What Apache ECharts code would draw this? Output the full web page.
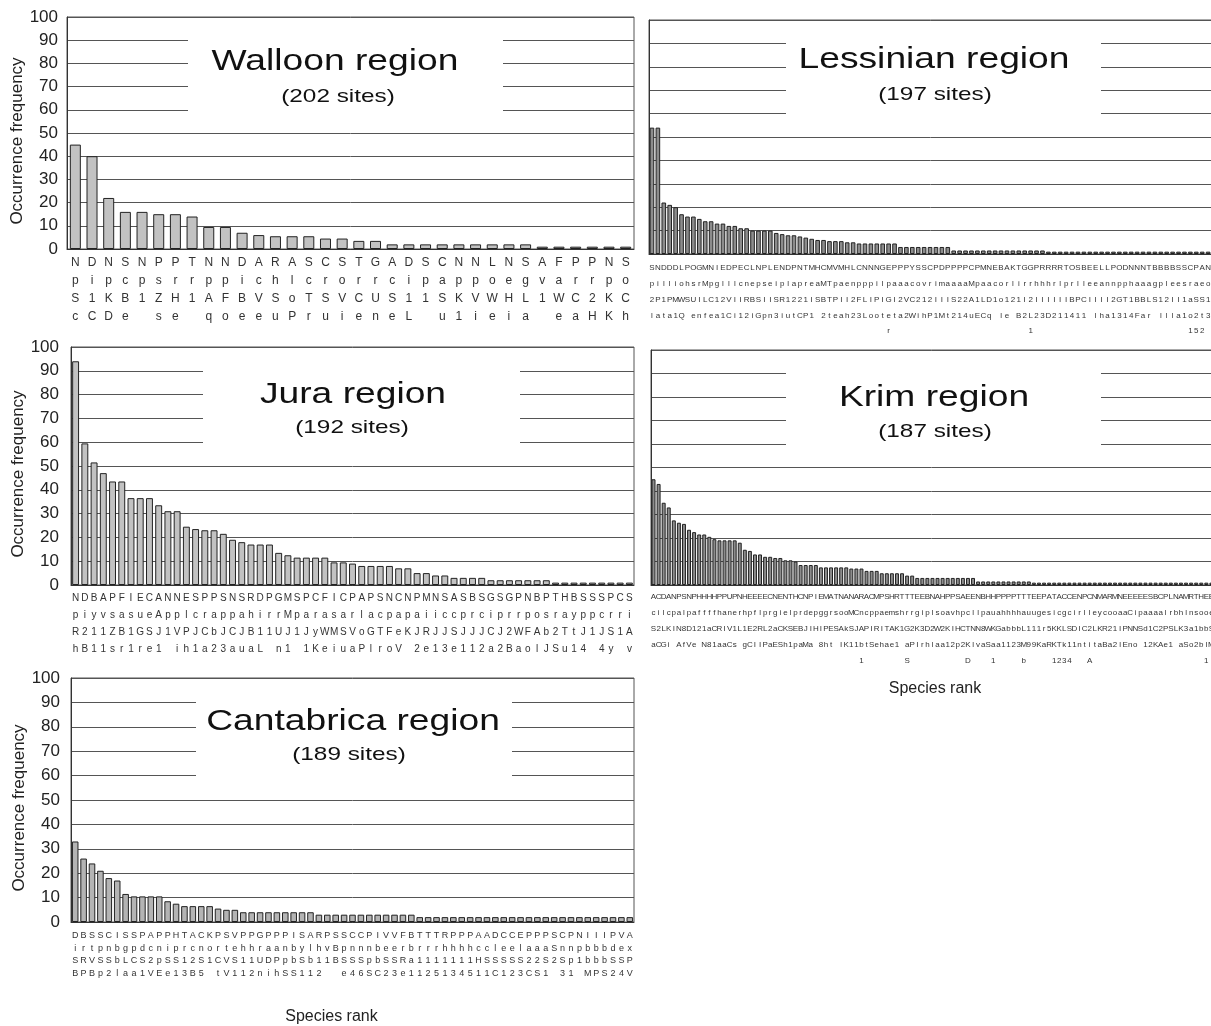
<!DOCTYPE html>
<html><head><meta charset="utf-8">
<script src="https://cdn.jsdelivr.net/npm/echarts@6/dist/echarts.min.js"></script>
<style>html,body{margin:0;padding:0;background:#fff}#c{width:1211px;height:1026px}</style>
</head><body><div id="c"></div>
<script>
// ---------------- DATA ----------------
const walloonValues = [45,40,22,16,16,15,15,14,9.5,9.5,7,6,5.5,5.5,5.5,4.5,4.5,3.5,3.5,2,2,2,2,2,2,2,2,2,1,1,1,1,1,1];
const walloonLabelRows = [
  "NDNSNPPTNNDARASCSTGADSCNNLNSAFPPNS",
  "pipcpsrrppichlcrorrcipappoegvarrpo",
  "S1KB1ZH1AFBVSoTSVCUS11SKVWHL1WC2KC",
  "cCDe se qoeeuPruieneL u1ieia eaHKh"
];

const lessinianValues = [54,54,22,21,20,17,16,16,15,14,14,13,13,12,12,11,11,10,10,10,10,9,8.5,8,8,7.5,7,6.5,6,6,5.5,5.5,5.5,
  5,5,4.5,4.5,4.5,4.5,4.5,4.5,4.5,3,3,3,3,3,3,3,3,3,
  1.5,1.5,1.5,1.5,1.5,1.5,1.5,1.5,1.5,1.5,1.5,1.5,1.5,1.5,1.5,1.5,
  1,1,1,1,1,1,1,1,1,1,1,1,1,1,1,1,1,1,1,1,1,1,1,1,1,1,1,1,1];
const lessinianLabelRows = [
  "SNDDDLPOGMNIEDPECLNPLENDPNTMHCMVMHLCNNNGEPPPYSSCPDPPPPCPMNEBAKTGGPRRRRTOSBEELLPODNNNTBBBBSSCPANE",
  "pilliohsrMpglllcnepseiplapreaMTpaenpppilpaaacovrimaaaaMpaacorlirrhhhrlprlleeannpphaaagpleesraeon",
  "2P1PMWSUILC12VIIRBSIISR1221ISBTPII2FLIPIGI2VC212IIIS22A1LD1o121I2IIIIIIBPCIIII2GT1BBLS12II1aSS1L",
  "lata1Q enfea1Ci12iGpn3iutCP1 2teah23Looteta2WihP1Mt214uECq le B2L23D211411 lha1314Far llla1o2t3e"
];
const lessinianRow5 = {41:"r", 65:"1", 92:"1", 93:"5", 94:"2"};

const juraValues = [94,59.5,51.5,47,43.5,43.5,36.5,36.5,36.5,33.5,31,31,24.5,23.5,23,23,21.5,19,18,17,17,17,13.5,12.5,11.5,11.5,11.5,11.5,9.5,9.5,
  9,8,8,8,8,7,7,5,5,4,4,3,3,3,3,2,2,2,2,2,2,2,1,1,1,1,1,1,1,1,1];
const juraLabelRows = [
  "NDBAPFIECANNESPPSNSRDPGMSPCFICPAPSNCNPMNSASBSGSGPNBPTHBSSSPCS",
  "piyvsasueApplcrappahirrMparasarlacpapaiiccprciprrposrayppcrri",
  "R211ZB1GSJ1VPJCbJCJB11UJ1JyWMSVoGTFeKJRJJSJJJCJ2WFAb2TtJ1JS1A",
  "hB11sr1re1 ih1a23auaL n1 1KeiuaPlroV 2e13e112a2BaolJSu14 4y v"
];

const krimValues = [45,43,35,33,27.5,26.5,26,23.5,22.5,21.5,21.5,20.5,19.5,19,19,19,19,18,15,14.5,13,13,12,12,11.5,11.5,10.5,10.5,10,8.5,8.5,8.5,8.5,7.5,7.5,7.5,7.5,7.5,7.5,
  7,7,7,6,6,6,5,5,5,5,5,4,4,3,3,3,3,3,3,3,3,3,3,3,3,
  1.5,1.5,1.5,1.5,1.5,1.5,1.5,1.5,1.5,1.5,1.5,
  1,1,1,1,1,1,1,1,1,1,1,1,1,1,1,1,1,1,1,1,1,1,1,1,1,1,1,1,1,1,1,1,1,1,1,1,1];
const krimLabelRows = [
  "ACDANPSNPHHHHPPUPNHEEEECNENTHCNPIEMATNANARACMPSHRTTTEEBNAHPPSAEENBHHPPPPTTTEEPATACCENPCNMARMNEEEEESBCPLNAMRTHEES",
  "cilcpalpaffffhanerhpflprgielprdepggrsooMCncppaemshrrgiplsoavhpcllpauahhhhauugesicgcirlleycooaaCipaaaalrbhlnsooep",
  "S2LKIN8D121aCRIV1L1E2RL2aCKSEBJIHIPESAkSJAPIRITAK1G2K3D2W2KIHCTNN8WKGabbbL111r5KKLSDIC2LKR21IPNNSd1C2PSLK3a1bbSS",
  "aCGi AfVe N81aaCs gCIIPaESh1paMa 8ht IK11btSehae1 aPIrhlaa12p2KlvaSaa1123M99KaRKTk11ntitaBa2lEno 12KAe1 aSo2blMa"
];
const krimRow5 = {42:"1", 51:"S", 63:"D", 68:"1", 74:"b", 80:"1", 81:"2", 82:"3", 83:"4", 87:"A", 110:"1"};

const cantabricaValues = [33,26,24,21,18,17,11.5,10.5,10.5,10.5,10.5,8.5,7.5,6.5,6.5,6.5,6.5,5.5,5,5,
  4,4,4,4,4,4,4,4,4,3,3,3,3,3,3,3,3,3,3,3,3,
  2,2,2,2,2,2,2,2,2,2,2,2,2,2,2,2,2,2,2,2,2,2,2,2,2,2];
const cantabricaLabelRows = [
  "DBSSCISSPAPPHTACKPSVPPGPPPISARPSSCCPIVVFBTTTRPPPAADCCEPPPSCPNIIIPVA",
  "irtpnbgpdcniprcnortehhraanbylhvBpnnnbeerbrrrhhhhccleelaaaSnnpbbbdex",
  "SRVSSbLCS2pSS12S1CVS11UDPpbSb11BSSSpbSSRa1111111HSSSSS22S2Sp1bbbSSP",
  "BPBp2laa1VEe13B5 tV112nihSS112  e46SC23e1125134511C123CS1 31 MPS24V"
];

const yTicks = [0,10,20,30,40,50,60,70,80,90,100];
const regionTitles = ["Walloon region","Lessinian region","Jura region","Krim region","Cantabrica region"];
const regionSites = ["(202 sites)","(197 sites)","(192 sites)","(187 sites)","(189 sites)"];

// ---------------- BUILD ----------------
function buildCodes(rows, n, row5) {
  const out = [];
  for (let i = 0; i < n; i++) {
    let s = rows.map(r => r.charAt(i) || ' ').join('');
    if (row5) s += (row5[i + 1] || ' ');
    out.push(s);
  }
  return out;
}

const FONT = '"Liberation Sans", Arial, sans-serif';

const panels = [
  { values: walloonValues, cats: buildCodes(walloonLabelRows, walloonValues.length),
    grid: {left: 67, top: 17, width: 567, height: 232}, showY: true, yMargin: 9, nameGap: 39,
    lf: 12, lh: 18, lm: 5, gap: '34%', fill: '#c2c2c2',
    box: [188, 26, 315, 94], tpos: [335, 62], spos: [338, 97] },
  { values: lessinianValues, cats: buildCodes(lessinianLabelRows, lessinianValues.length, lessinianRow5),
    grid: {left: 649, top: 20, width: 568, height: 234}, showY: false,
    lf: 8, lh: 15.8, lm: 6, gap: '22%', fill: '#8c8c8c',
    box: [786, 28, 315, 94], tpos: [934, 60], spos: [935, 95] },
  { values: juraValues, cats: buildCodes(juraLabelRows, juraValues.length),
    grid: {left: 71, top: 347, width: 563, height: 238}, showY: true, yMargin: 12, nameGap: 43,
    lf: 10, lh: 17, lm: 5, gap: '25%', fill: '#c2c2c2',
    box: [203, 358, 317, 96], tpos: [353, 395], spos: [352, 428] },
  { values: krimValues, cats: buildCodes(krimLabelRows, krimValues.length, krimRow5),
    grid: {left: 651, top: 350, width: 568, height: 235}, showY: false,
    lf: 8, lh: 16, lm: 4, gap: '22%', fill: '#8c8c8c', xName: 'Species rank', xNameGap: 96, xNamePad: [0,0,0,0],
    box: [786, 360, 315, 95], tpos: [934, 398], spos: [935, 432] },
  { values: cantabricaValues, cats: buildCodes(cantabricaLabelRows, cantabricaValues.length),
    grid: {left: 71, top: 678, width: 563, height: 244}, showY: true, yMargin: 11, nameGap: 43,
    lf: 9, lh: 12.8, lm: 7, gap: '22%', fill: '#b4b4b4', xName: 'Species rank', xNameGap: 87, xNamePad: [0,42,0,0],
    box: [196, 688, 316, 98], tpos: [353, 722], spos: [349, 755] }
];

const option = {
  animation: false,
  backgroundColor: '#ffffff',
  textStyle: {fontFamily: FONT},
  grid: [], xAxis: [], yAxis: [], series: [], graphic: []
};

panels.forEach((p, k) => {
  option.grid.push(Object.assign({show: true, borderColor: '#555', borderWidth: 1,
    containLabel: false, outerBoundsMode: 'none'}, p.grid));
  option.xAxis.push({
    type: 'category', gridIndex: k, data: p.cats,
    name: p.xName || '', nameLocation: 'middle', nameGap: p.xNameGap || 0,
    nameTextStyle: {fontSize: 16, color: '#222', fontFamily: FONT, padding: p.xNamePad || 0},
    axisTick: {show: false},
    axisLine: {lineStyle: {color: '#333', width: 1}},
    axisLabel: {interval: 0, fontSize: p.lf, lineHeight: p.lh, margin: p.lm, color: '#333',
      fontFamily: FONT, verticalAlign: 'top', formatter: v => v.split('').join('\n')}
  });
  option.yAxis.push({
    type: 'value', gridIndex: k, min: yTicks[0], max: yTicks[yTicks.length - 1], interval: 10,
    name: p.showY ? 'Occurrence frequency' : '', nameLocation: 'middle', nameGap: p.nameGap || 0,
    nameTextStyle: {fontSize: 17, color: '#222', fontFamily: FONT, padding: [0, 16, 0, 0]},
    axisLine: {show: true, lineStyle: {color: '#333', width: 1}},
    axisTick: {show: false},
    splitLine: {show: true, lineStyle: {color: '#555', width: 1}},
    axisLabel: {show: p.showY, fontSize: 17, color: '#222', margin: p.yMargin || 8, fontFamily: FONT}
  });
  option.series.push({
    type: 'bar', xAxisIndex: k, yAxisIndex: k, data: p.values, silent: true,
    barCategoryGap: p.gap,
    itemStyle: {color: p.fill, borderColor: '#222', borderWidth: 1}
  });
  option.graphic.push({
    type: 'rect', z: 50, silent: true,
    shape: {x: p.box[0], y: p.box[1], width: p.box[2], height: p.box[3]},
    style: {fill: '#ffffff'}
  });
  option.graphic.push({
    type: 'text', z: 51, silent: true, x: p.tpos[0], y: p.tpos[1], scaleX: 1.24,
    style: {text: regionTitles[k], fontSize: 30, fontFamily: FONT, fill: '#111',
      align: 'center', verticalAlign: 'middle', textAlign: 'center', textVerticalAlign: 'middle'}
  });
  option.graphic.push({
    type: 'text', z: 51, silent: true, x: p.spos[0], y: p.spos[1], scaleX: 1.28,
    style: {text: regionSites[k], fontSize: 19, fontFamily: FONT, fill: '#111',
      align: 'center', verticalAlign: 'middle', textAlign: 'center', textVerticalAlign: 'middle'}
  });
});

const chart = echarts.init(document.getElementById('c'), null, {renderer: 'canvas'});
chart.setOption(option);
</script></body></html>
